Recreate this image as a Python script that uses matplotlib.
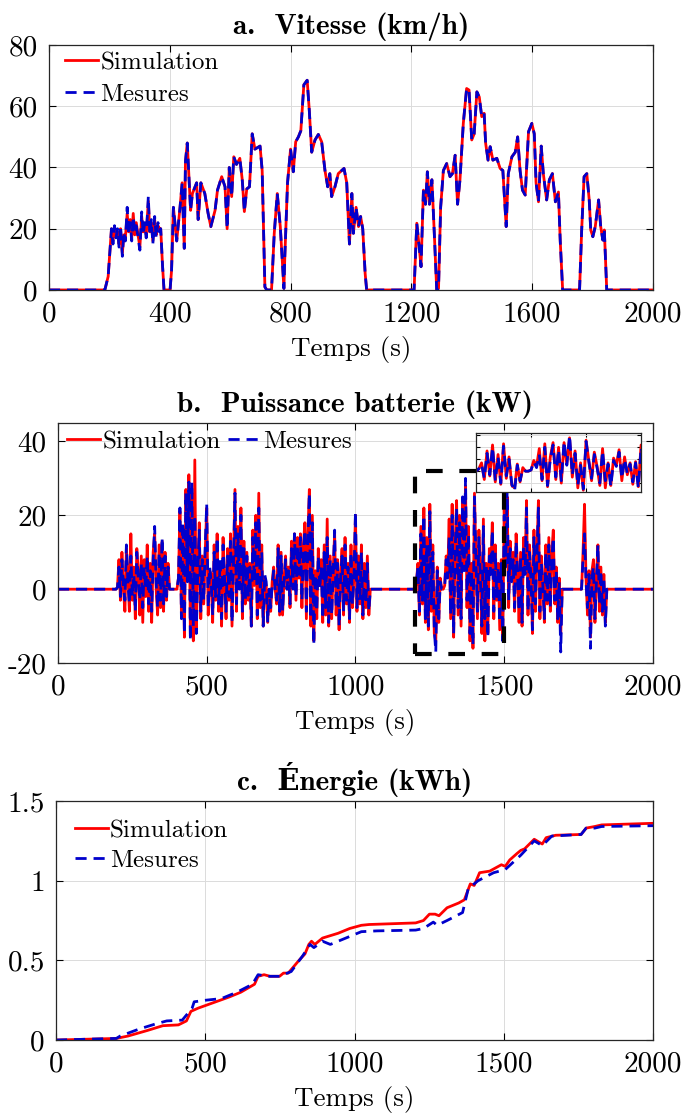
import numpy as np
import matplotlib
matplotlib.use("Agg")
import matplotlib.pyplot as plt
from matplotlib.patches import Rectangle

plt.rcParams['font.family'] = ['cmr10', 'DejaVu Serif']
plt.rcParams['mathtext.fontset'] = 'cm'
plt.rcParams['axes.formatter.use_mathtext'] = False
plt.rcParams['font.size'] = 21
plt.rcParams['axes.unicode_minus'] = False

# ---------------- a. Vitesse ----------------
t_vitesse = [0, 185, 196, 207, 212, 217, 222, 227, 232, 237, 243, 248, 253, 259, 264,
             269, 274, 279, 284, 289, 295, 301, 307, 312, 317, 322, 329, 334, 339,
             344, 350, 355, 361, 366, 370, 376, 381, 401, 406, 412, 423, 434, 441,
             448, 452, 458, 464, 469, 475, 489, 494, 503, 516, 527, 536, 550, 558,
             572, 583, 590, 597, 605, 612, 621, 632, 640, 647, 655, 664, 673, 682,
             699, 706, 715, 721, 737, 746, 756, 766, 778, 781, 790, 800, 809, 817,
             826, 834, 844, 855, 862, 870, 881, 892, 903, 914, 923, 930, 936, 947,
             958, 969, 977, 986, 995, 1003, 1008, 1017, 1025, 1032, 1039, 1047, 1052,
             1209, 1218, 1226, 1232, 1240, 1247, 1253, 1260, 1268, 1275, 1284, 1290,
             1297, 1306, 1317, 1328, 1336, 1345, 1353, 1361, 1372, 1383, 1391, 1400,
             1408, 1417, 1425, 1433, 1441, 1446, 1454, 1461, 1470, 1483, 1494, 1503,
             1508, 1514, 1521, 1533, 1544, 1552, 1560, 1568, 1577, 1588, 1599, 1607,
             1613, 1621, 1630, 1637, 1648, 1657, 1667, 1677, 1687, 1693, 1701, 1757,
             1764, 1772, 1781, 1789, 1794, 1801, 1809, 1820, 1827, 1834, 1839, 1847,
             2000]
vitesse_mes = [0, 0, 4.4, 20, 15, 21, 17, 20, 14, 21, 11, 19, 16, 27, 18,
               22, 16, 24, 19, 21, 17, 13, 25.5, 18, 22, 17, 30.5, 18, 23,
               15, 24, 17, 22, 19, 20, 8, 0, 0, 6.5, 27, 16, 27, 35,
               13.6, 42, 48, 36, 26, 31.5, 35, 23, 35, 31.5, 25, 20.7, 26, 32.6,
               37, 33.7, 20, 40, 30.5, 43.5, 41, 43, 36, 25.6, 33, 33.7, 51, 46,
               47, 39, 1, 0, 0, 18.5, 31.5, 20.7, 0.5, 11, 35, 46, 38.6, 48.4,
               50, 52, 67, 68.5, 58.7, 45, 49, 50.8, 48.4, 39, 33.7, 38, 30.5, 33.7,
               38, 39, 39.7, 35, 15, 31.5, 18.5, 27, 20.7, 24, 20, 5.4, 0,
               0, 21.8, 14, 7.6, 32.6, 28, 38.6, 28, 36, 20.7, 0, 0.5,
               27, 39, 41.3, 37, 38, 44, 28, 36, 54.4, 65.8, 65.3, 49,
               51, 64.7, 63, 56.6, 57.7, 47.9, 42.4, 46.8, 42.4, 43, 39.7, 39,
               30.5, 20.7, 38, 43.5, 45, 50, 39, 32.6, 31, 51.7, 54.4, 51,
               35, 28.8, 47, 38, 29.4, 36, 38, 28.8, 32, 16, 0, 0,
               19.6, 37, 38, 29.4, 19.6, 17.4, 20.7, 29.4, 20.7, 16.3, 19.6, 0,
               0]
vitesse_sim = list(vitesse_mes)
# petites differences dans la zone bruitee 207-370 s
vitesse_sim[4:35] = [16, 20, 18, 19, 15, 20, 12, 18, 17, 25, 19, 23, 17, 25, 18, 22, 18,
                     14, 24, 19, 21, 18, 29, 19, 22, 16, 23, 18, 21, 20, 20]

# ---------------- b. Puissance batterie ----------------
t_puissance = np.arange(0, 2001, 5)
p_mes = ([0.0] * 40 +
         [0.5, 6, -2, 8, 1, -3, 12, 2, -4, 9, -2, 4, -6, 10, 3, -3, 7, -5, 6, 0,
          9, -4, 5, -6, 8, 17, 2, -5, 10, -3, 14, -4, 9, -2, 6, 0] +
         [0.0] * 5 +
         [3, 22, -8, 18, -12, 26, 2, 29, -14, 29,
          -10, 20, -12, 5, 16, -6, 8, -3, 12, 23,
          -5, 6, 2, -7, 10, -2, 14, -4, 8, -8,
          12, 3, -6, 9, -2, 13, -9, 7, 26, -4,
          15, 0, 20, -6, 11, -3, 9, -2, 6, -10,
          14, 2, 18, -7, 22, -3, 10, -10, 4, 2,
          -9, 0, -5, 1, 5, 0, -3, 11, -6, 9,
          -6, 2, 8, 0, 5, -4, 11, 0, 15, -2,
          12, 4, 14, -3, 10, 16, -6, 13, 26, -8,
          18, -15, 4, -6, 9, 0, 6, -8, 10, -5,
          14, -9, 8, -7, 4, 16, -5, 7, -10, 3,
          9, -6, 12, -3, 6, -8, 10, -4, 3, 21,
          -5, 8, -3, 10, -7, 6, -4, 7, -6, 0] +
         [0.0] * 30 +
         [2, 6, -6, 15, -3, 20, -8, 12, -10, 21,
          -4, 10, -11, -17, 5, -8, 2, 0, 0, 1,
          8, 3, 14, -7, 20, -12, 10, 22, -5, 18,
          -8, 25, 5, 30, -3, 15, -12, 5, -15, 25,
          8, -6, 14, 3, -10, 17, -8, 6, -13, 9,
          4, 16, -6, 10, -2, 6, -9, 7, -14, 20,
          6, 27, -3, 11, 2, 8, -5, 13, 4, -6,
          9, -9, 12, 4, 22, -6, 10, 3, -11, 14,
          -4, 9, 22, -6, 7, 1, -8, 10, -3, 12,
          -5, 8, 14, -3, 5, -8, 2, -17, 0, 0] +
         [0.0] * 12 +
         [8, 15, 2, -5, 4, -16, 3, 6, -8, 2, 12, -4, 5, -6, 3, -10, 0] +
         [0.0] * 31)
p_sim = ([0.0] * 40 +
         [0.5, 8, -3, 10, 0, -6, 11, 4, -6, 15, -3, 6, -8, 11, 5, -7, 9, -9, 8, -2,
          12, -6, 7, -9, 10, 15, 0, -7, 12, -5, 13, -6, 10, -3, 7, 0] +
         [0.0] * 5 +
         [3, 21, -7, 17, -13, 27, 4, 31, -12, 26,
          -14, 35, -11, 6, 18, -8, 9, -4, 10, 22,
          -7, 5, 4, -9, 12, -3, 15, -6, 7, -10,
          14, 2, -8, 11, -3, 15, -10, 9, 27, -6,
          17, 1, 22, -8, 13, -4, 10, -3, 7, -10,
          16, 1, 20, -8, 26, -5, 12, -10, 3, 1,
          -9, 0, -6, 2, 6, 0, -4, 12, -7, 10,
          -7, 3, 9, 0, 6, -5, 13, 1, 15, -3,
          14, 3, 15, -5, 12, 18, -8, 15, 27, -10,
          20, -14, 5, -8, 11, 1, 8, -9, 12, -7,
          19, -10, 9, -8, 5, 15, -7, 8, -11, 4,
          11, -7, 14, -4, 7, -9, 12, -5, 4, 20,
          -6, 9, -4, 12, -8, 7, -5, 9, -7, 0] +
         [0.0] * 30 +
         [2, 7, -7, 17, -4, 22, -9, 14, -11, 23,
          -6, 12, -12, -14, 6, -9, 3, 0, 0, 1,
          9, 4, 19, -8, 23, -13, 12, 24, -7, 20,
          -10, 24, 6, 28, -5, 17, -14, 7, -16, 26,
          9, -8, 16, 4, -12, 19, -14, 7, -12, 11,
          5, 18, -8, 12, -3, 7, -11, 8, -13, 22,
          7, 25, -5, 13, 3, 10, -6, 15, 5, -9,
          10, -10, 14, 5, 24, -7, 12, 4, -12, 16,
          -6, 10, 24, -8, 9, 2, -9, 12, -4, 14,
          -6, 10, 16, -4, 6, -9, 3, -12, 0, 0] +
         [0.0] * 12 +
         [10, 23, 3, -7, 5, -13, 5, 8, -9, 3, 12, -6, 6, -7, 4, -9, 0] +
         [0.0] * 31)
zoom_x = [1200, 1500]
zoom_y = [-17.5, 32]

# ---------------- c. Energie ----------------
t_e_sim = [0, 202, 241, 306, 358, 410, 437, 452, 476, 528, 580, 619, 665, 677, 697,
           717, 749, 762, 778, 814, 834, 847, 856, 867, 893, 945, 984, 1023, 1049,
           1205, 1231, 1251, 1270, 1283, 1310, 1349, 1368, 1388, 1401, 1419, 1453,
           1492, 1505, 1520, 1544, 1557, 1570, 1602, 1629, 1642, 1674, 1759, 1776,
           1805, 1828, 2000]
e_sim = [0, 0.01, 0.025, 0.06, 0.09, 0.095, 0.12, 0.18, 0.2, 0.235, 0.27, 0.3, 0.35,
         0.4, 0.41, 0.4, 0.4, 0.42, 0.42, 0.5, 0.54, 0.6, 0.62, 0.6, 0.64, 0.67, 0.7,
         0.72, 0.725, 0.735, 0.75, 0.79, 0.79, 0.78, 0.83, 0.86, 0.88, 0.98, 0.97,
         1.05, 1.06, 1.1, 1.09, 1.13, 1.17, 1.19, 1.2, 1.26, 1.23, 1.27, 1.285, 1.29,
         1.33, 1.34, 1.35, 1.36]
t_e_mes = [0, 202, 215, 280, 332, 371, 423, 456, 463, 502, 554, 606, 658, 677, 710,
           749, 788, 827, 851, 864, 893, 919, 971, 1023, 1075, 1205, 1231, 1264,
           1277, 1310, 1362, 1381, 1414, 1466, 1505, 1534, 1557, 1602, 1629, 1661,
           1759, 1776, 1805, 1828, 2000]
e_mes = [0, 0.01, 0.025, 0.07, 0.1, 0.12, 0.125, 0.2, 0.24, 0.25, 0.26, 0.3, 0.35,
         0.41, 0.4, 0.4, 0.43, 0.53, 0.6, 0.58, 0.62, 0.6, 0.64, 0.68, 0.685, 0.69,
         0.7, 0.74, 0.72, 0.75, 0.8, 0.95, 1.0, 1.05, 1.07, 1.12, 1.16, 1.25, 1.22,
         1.28, 1.29, 1.33, 1.33, 1.34, 1.345]

ROUGE = '#ff0000'
BLEU = '#0000cc'
LW = 2.0
FS = 21      # graduations et titres
FS_LAB = 19.5
FS_LEG = 18


def style_axes(ax):
    ax.grid(True, color='0.86', linewidth=0.7)
    ax.tick_params(direction='in', top=True, right=True, length=5, width=0.8,
                   pad=8, labelsize=FS)
    for s in ax.spines.values():
        s.set_color('0.15')
        s.set_linewidth(0.9)


def courbes(ax, t1, y1, t2, y2):
    ax.plot(t1, y1, color=ROUGE, lw=LW, label='Simulation')
    ax.plot(t2, y2, color=BLEU, lw=LW, dashes=(4, 2.5), label='Mesures')


def legende(ax, anchor, **kw):
    ax.legend(loc='upper left', bbox_to_anchor=anchor, frameon=False,
              handlelength=1.3, handletextpad=0.1, borderaxespad=0,
              borderpad=0, fontsize=FS_LEG, **kw)


fig = plt.figure(figsize=(6.82, 11.17), dpi=100)
titre_font = dict(family=['cmb10', 'DejaVu Serif'], size=FS, weight='bold')

# a
ax1 = fig.add_axes([0.0718, 0.7404, 0.8856, 0.2193])
courbes(ax1, t_vitesse, vitesse_sim, t_vitesse, vitesse_mes)
ax1.set_xlim(0, 2000)
ax1.set_ylim(0, 80)
ax1.set_xticks([0, 400, 800, 1200, 1600, 2000])
ax1.set_yticks([0, 20, 40, 60, 80])
style_axes(ax1)
ax1.set_title('a.  Vitesse (km/h)', fontdict=titre_font, pad=8)
ax1.set_xlabel('Temps (s)', labelpad=6, fontsize=FS_LAB)
legende(ax1, (0.027, 0.973), labelspacing=0.38)

# b
ax2 = fig.add_axes([0.085, 0.4064, 0.8724, 0.2149])
courbes(ax2, t_puissance, p_sim, t_puissance, p_mes)
ax2.add_patch(Rectangle((zoom_x[0], zoom_y[0]), zoom_x[1] - zoom_x[0],
                        zoom_y[1] - zoom_y[0], fill=False, edgecolor='black',
                        lw=3, linestyle=(0, (4, 4)), zorder=5))
ax2.set_xlim(0, 2000)
ax2.set_ylim(-20, 45)
ax2.set_xticks([0, 500, 1000, 1500, 2000])
ax2.set_yticks([-20, 0, 20, 40])
style_axes(ax2)
ax2.set_title('b.  Puissance batterie (kW)', fontdict=titre_font, pad=8)
ax2.set_xlabel('Temps (s)', labelpad=6, fontsize=FS_LAB)
legende(ax2, (0.016, 0.968), ncol=2, columnspacing=0.3)

ax_in = fig.add_axes([0.698, 0.5595, 0.242, 0.0528])
courbes(ax_in, t_puissance, p_sim, t_puissance, p_mes)
ax_in.set_xlim(zoom_x)
ax_in.set_ylim(zoom_y)
ax_in.set_xticks([1300, 1400])
ax_in.set_yticks([-10, 0, 10, 20, 30])
style_axes(ax_in)
ax_in.tick_params(labelbottom=False, labelleft=False, length=3)

# c
ax3 = fig.add_axes([0.0821, 0.0689, 0.8754, 0.214])
courbes(ax3, t_e_sim, e_sim, t_e_mes, e_mes)
ax3.set_xlim(0, 2000)
ax3.set_ylim(0, 1.5)
ax3.set_xticks([0, 500, 1000, 1500, 2000])
ax3.set_yticks([0, 0.5, 1, 1.5])
ax3.set_yticklabels(['0', '0.5', '1', '1.5'])
style_axes(ax3)
ax3.set_title('c.  Énergie (kWh)', fontdict=titre_font, pad=8)
ax3.set_xlabel('Temps (s)', labelpad=6, fontsize=FS_LAB)
legende(ax3, (0.032, 0.922), labelspacing=0.28)

fig.savefig('out.png', dpi=100)
